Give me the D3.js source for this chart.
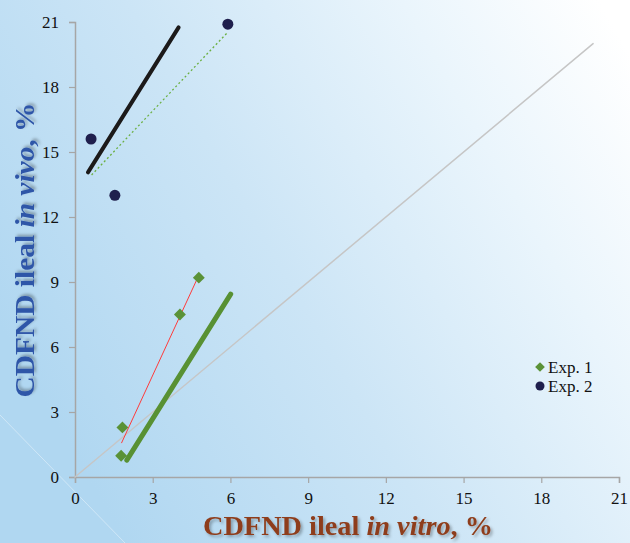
<!DOCTYPE html>
<html>
<head>
<meta charset="utf-8">
<script src="https://cdn.jsdelivr.net/npm/d3@7"></script>
<style>
  body { margin: 0; overflow: hidden; }
  svg { display: block; font-family: "Liberation Serif", "Times New Roman", serif; }
</style>
</head>
<body>
<div id="vis-holder"></div>
<script>
// data
const ticks = [0, 3, 6, 9, 12, 15, 18, 21];

const exp1X = [1.78, 1.83, 4.05, 4.78];
const exp1Y = [0.98, 2.29, 7.5, 9.2];

const exp2X = [0.62, 1.54, 5.9];
const exp2Y = [15.6, 13.0, 20.9];

// fitted lines, [x1, x2] and [y1, y2]
const blackLineX = [0.5, 4.0];
const blackLineY = [14.06, 20.75];
const dottedLineX = [0.64, 5.86];
const dottedLineY = [13.94, 20.48];
const greenLineX = [2.0, 6.01];
const greenLineY = [0.78, 8.44];
const redLineX = [1.8, 4.76];
const redLineY = [1.58, 9.26];
const unityX = [0, 20];
const unityY = [0, 20];

const legendNames = ["Exp. 1", "Exp. 2"];

const width = 630, height = 543;

const svg = d3.select("#vis-holder")
    .append("svg")
    .attr("width", width)
    .attr("height", height);

// background gradient
const defs = svg.append("defs");
const grad = defs.append("linearGradient")
    .attr("id", "bg")
    .attr("x1", 0).attr("y1", 0.6)
    .attr("x2", 1).attr("y2", 0.1);
grad.append("stop").attr("offset", 0).attr("stop-color", "#b0d7f1");
grad.append("stop").attr("offset", 0.4).attr("stop-color", "#cce5f6");
grad.append("stop").attr("offset", 0.75).attr("stop-color", "#eaf5fc");
grad.append("stop").attr("offset", 1).attr("stop-color", "#ffffff");

const shadow = defs.append("filter").attr("id", "shadow")
    .attr("x", "-10%").attr("y", "-10%").attr("width", "130%").attr("height", "130%");
shadow.append("feDropShadow")
    .attr("dx", 2).attr("dy", 2).attr("stdDeviation", 1.5)
    .attr("flood-color", "#000").attr("flood-opacity", 0.3);

svg.append("rect")
    .attr("width", width).attr("height", height)
    .attr("fill", "url(#bg)");

// faint white streak bottom-left
svg.append("line")
    .attr("x1", 0).attr("y1", 415).attr("x2", 125).attr("y2", 543)
    .attr("stroke", "#ffffff").attr("stroke-opacity", 0.5).attr("stroke-width", 0.8);

const x = d3.scaleLinear().domain([0, 21]).range([75, 619]);
const y = d3.scaleLinear().domain([0, 21]).range([477, 22]);

// axes
const xAxis = svg.append("g")
    .attr("transform", "translate(0," + y(0) + ")")
    .call(d3.axisBottom(x).tickValues(ticks).tickSize(6).tickPadding(5));
const yAxis = svg.append("g")
    .attr("transform", "translate(" + x(0) + ",0)")
    .call(d3.axisLeft(y).tickValues(ticks).tickSize(6).tickPadding(10));

[xAxis, yAxis].forEach(function (g) {
    g.select(".domain").attr("stroke", "#a6a6a6").attr("stroke-width", 1.5);
    g.selectAll(".tick line").attr("stroke", "#a6a6a6").attr("stroke-width", 1.2);
    g.selectAll(".tick text")
        .attr("fill", "#111")
        .style("font-family", "Liberation Serif, serif")
        .style("font-size", "17px");
});
xAxis.selectAll(".tick text").attr("dy", "0.95em");

function drawLine(xs, ys, color, w, dash) {
    svg.append("line")
        .attr("x1", x(xs[0])).attr("y1", y(ys[0]))
        .attr("x2", x(xs[1])).attr("y2", y(ys[1]))
        .attr("stroke", color)
        .attr("stroke-width", w)
        .attr("stroke-linecap", dash ? "butt" : "round")
        .attr("stroke-dasharray", dash || null);
}

drawLine(unityX, unityY, "#c6c6c6", 1.5);
drawLine(greenLineX, greenLineY, "#589133", 5);
drawLine(redLineX, redLineY, "#ff3b3b", 1);
drawLine(dottedLineX, dottedLineY, "#6cb043", 1.3, "2,2.5");
drawLine(blackLineX, blackLineY, "#1c1a1a", 4);

// exp 1 diamonds
svg.append("g")
    .selectAll("path")
    .data(exp1X)
    .enter().append("path")
    .attr("d", d3.symbol().type(d3.symbolDiamond2).size(90))
    .attr("transform", function (d, i) {
        return "translate(" + x(d) + "," + y(exp1Y[i]) + ")";
    })
    .attr("fill", "#5a9237");

// exp 2 circles
svg.append("g")
    .selectAll("circle")
    .data(exp2X)
    .enter().append("circle")
    .attr("cx", function (d) { return x(d); })
    .attr("cy", function (d, i) { return y(exp2Y[i]); })
    .attr("r", 5.5)
    .attr("fill", "#1f1f4d");

// legend
const legend = svg.append("g").attr("transform", "translate(540,367)");
legend.append("path")
    .attr("d", d3.symbol().type(d3.symbolDiamond2).size(60))
    .attr("fill", "#5a9237");
legend.append("circle")
    .attr("cy", 19).attr("r", 4.5)
    .attr("fill", "#1f1f4d");
legend.selectAll("text")
    .data(legendNames)
    .enter().append("text")
    .attr("x", 8)
    .attr("y", function (d, i) { return i * 19; })
    .attr("dy", "0.35em")
    .style("font-size", "17px")
    .attr("fill", "#111")
    .text(function (d) { return d; });

// axis titles
const xTitle = svg.append("text")
    .attr("x", 348).attr("y", 535)
    .attr("text-anchor", "middle")
    .attr("textLength", 290)
    .attr("lengthAdjust", "spacingAndGlyphs")
    .attr("fill", "#8e3e1c")
    .attr("filter", "url(#shadow)")
    .style("font-size", "27px")
    .style("font-weight", "bold");
xTitle.append("tspan").text("CDFND ileal ");
xTitle.append("tspan").style("font-style", "italic").text("in vitro");
xTitle.append("tspan").text(", %");

const yTitle = svg.append("text")
    .attr("transform", "translate(34,250) rotate(-90)")
    .attr("text-anchor", "middle")
    .attr("textLength", 295)
    .attr("lengthAdjust", "spacingAndGlyphs")
    .attr("fill", "#2f56a8")
    .attr("filter", "url(#shadow)")
    .style("font-size", "27px")
    .style("font-weight", "bold");
yTitle.append("tspan").text("CDFND ileal ");
yTitle.append("tspan").style("font-style", "italic").text("in vivo");
yTitle.append("tspan").text(", %");
</script>
</body>
</html>
